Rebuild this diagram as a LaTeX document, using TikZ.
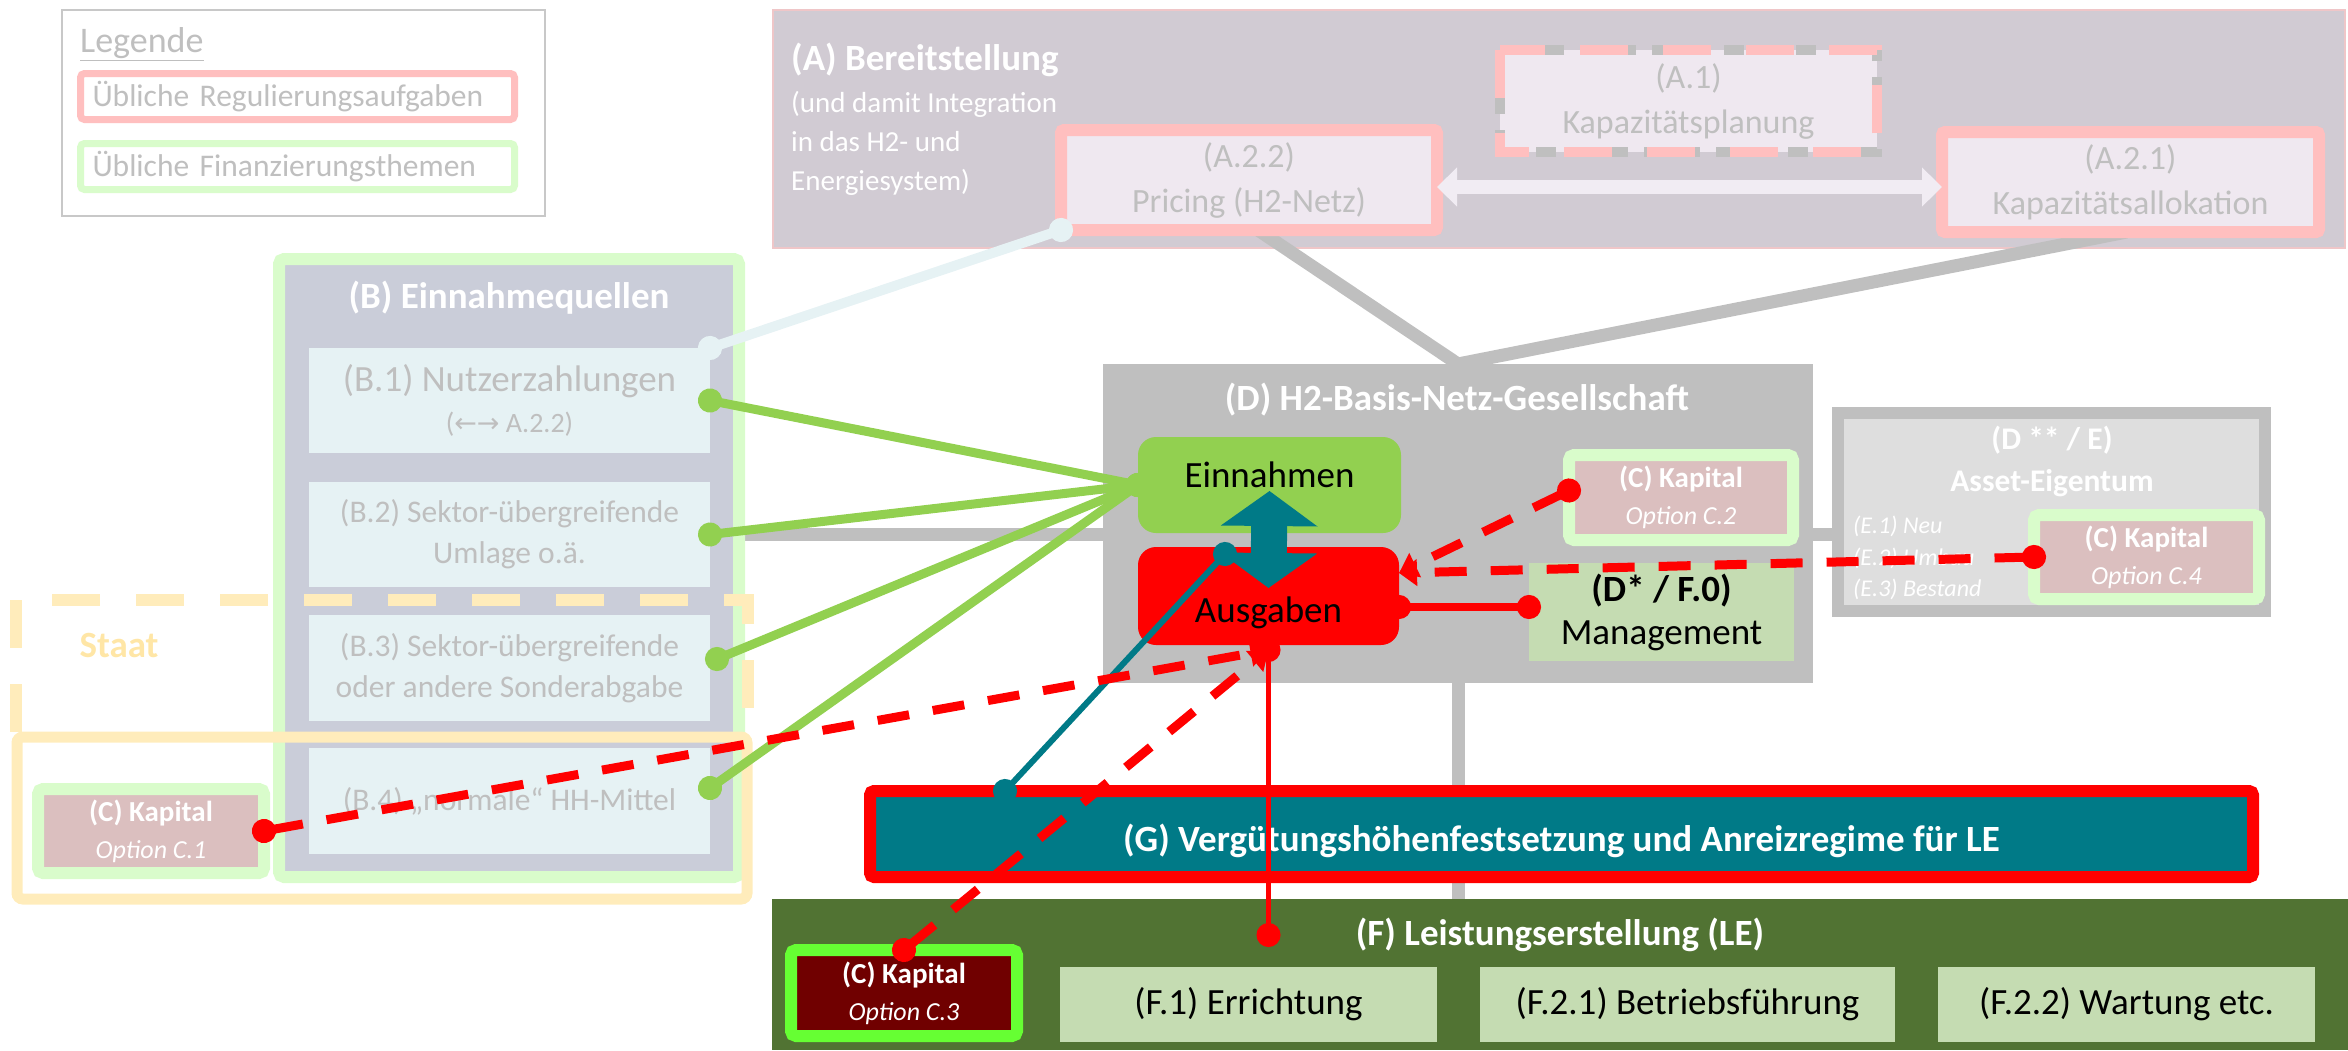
\documentclass[tikz,border=0pt]{standalone}
\usepackage{fontspec}
\setmainfont{Carlito}
\newfontfamily\arrowfont{DejaVu Sans}
\usetikzlibrary{arrows.meta,calc}

\newcommand\setfs[2]{\fontsize{#1pt}{#2pt}\selectfont}
\newcommand\kaptext[1]{\textbf{(C) Kapital}\\{\setfs{26}{37}\itshape Option C.#1}}

\definecolor{legendgrayc}{HTML}{C8C8C8}
\definecolor{txtgrayc}{HTML}{BFBFBF}
\definecolor{regpinkc}{HTML}{FFBFBF}
\definecolor{fingreenc}{HTML}{D9FCCB}
\definecolor{abgc}{HTML}{D1CBD3}
\definecolor{aborderc}{HTML}{EFC6C8}
\definecolor{asubc}{HTML}{EFE8F0}
\definecolor{awhitec}{HTML}{F1ECF3}
\definecolor{bbgc}{HTML}{CACDD9}
\definecolor{bsubc}{HTML}{E6F2F4}
\definecolor{staatc}{HTML}{FFECBB}
\definecolor{staattextc}{HTML}{FFE6A6}
\definecolor{kapfillc}{HTML}{DBBFBF}
\definecolor{dgrayc}{HTML}{BFBFBF}
\definecolor{egrayc}{HTML}{DEDEDE}
\definecolor{leafc}{HTML}{C5DCB2}
\definecolor{einc}{HTML}{92D050}
\definecolor{fgreenc}{HTML}{517333}
\definecolor{gtealc}{HTML}{007A87}
\definecolor{c3borderc}{HTML}{66FF33}
\definecolor{c3fillc}{HTML}{700000}

\pgfdeclarelayer{bg}
\pgfdeclarelayer{wires}
\pgfsetlayers{bg,wires,main}

\tikzset{
  plain/.style={inner sep=0pt, outer sep=0pt, align=center},
  legbox/.style={plain, line width=7pt, rounded corners=4pt, fill=white, text=txtgrayc,
    font=\setfs{31.5}{38}, minimum width=434pt, minimum height=46pt, text width=410pt, align=left},
  asubbox/.style={plain, fill=asubc, text=txtgrayc, font=\setfs{34}{45}},
  regframe/.style={draw=regpinkc, line width=12pt, rounded corners=3pt},
  bsubbox/.style={plain, fill=bsubc, text=txtgrayc, font=\setfs{31.5}{41}, minimum width=401pt},
  kap/.style={plain, draw=fingreenc, line width=12pt, rounded corners=5pt, fill=kapfillc,
    text=white, font=\setfs{29}{37}},
  leafbox/.style={plain, fill=leafc, text=black, font=\setfs{37}{43}},
  headtext/.style={inner sep=0pt, align=center, text=white, font=\setfs{37}{44}\bfseries},
  wire/.style={draw=dgrayc, line width=13pt},
  dotends/.style={{Circle[length=24pt,width=24pt]}-{Circle[length=24pt,width=24pt]},
    shorten <=-12pt, shorten >=-12pt},
  dotarrow/.style={{Circle[length=24pt,width=24pt]}-{Triangle[length=18pt,width=26pt]},
    shorten <=-12pt},
  redlink/.style={red, line width=9pt, dash pattern=on 32pt off 24pt},
}

\begin{document}
\begin{tikzpicture}[x=1pt, y=-1pt]
\useasboundingbox (0,0) rectangle (2348,1050);

% ---------- legend ----------
\node[plain, draw=legendgrayc, line width=2pt, fill=white, minimum width=483pt, minimum height=206pt] (legend) at (303.5,113) {};
\node[anchor=west, inner sep=0pt, text=txtgrayc, font=\setfs{36}{40}] (legtitle) at (80,44) {\underline{Legende}};
\node[legbox, draw=regpinkc] (legreg) at (297.5,96.5) {Übliche Regulierungsaufgaben};
\node[legbox, draw=fingreenc] (legfin) at (297.5,166.5) {Übliche Finanzierungsthemen};

% ---------- (A) provision ----------
\begin{pgfonlayer}{bg}
\node[plain, fill=abgc, draw=aborderc, line width=2pt, minimum width=1572pt, minimum height=238pt] (abox) at (1559,129) {};
\end{pgfonlayer}
\node[headtext, anchor=west] (atitle) at (791,60) {(A) Bereitstellung};
\node[anchor=west, inner sep=0pt, align=left, text=white, font=\setfs{29}{39}] (anote) at (791,143) {(und damit Integration\\in das H2- und\\Energiesystem)};
\node[asubbox, regframe, minimum width=376pt, minimum height=100pt] (a22) at (1249,180) {(A.2.2)\\Pricing (H2-Netz)};
\node[asubbox, draw=dgrayc, line width=10pt, dash pattern=on 20pt off 16pt, minimum width=377pt, minimum height=102pt] (a1) at (1688.5,101) {(A.1)\\Kapazitätsplanung};
\draw[regpinkc, line width=10pt, dash pattern=on 48pt off 35pt] (a1.north west) rectangle (a1.south east);
\node[asubbox, regframe, minimum width=377pt, minimum height=100pt] (a21) at (2130.5,182) {(A.2.1)\\Kapazitätsallokation};
\draw[awhitec, line width=14pt, {Triangle[length=20pt,width=38pt]}-{Triangle[length=20pt,width=38pt]}]
  ([yshift=-7pt]a22.east) -- ([yshift=-7pt]a22.east -| a21.west);

% ---------- (B) revenue sources ----------
\node[plain, fill=bbgc, draw=fingreenc, line width=12pt, rounded corners=5pt, minimum width=460pt, minimum height=618pt] (b) at (509,568) {};
\node[headtext] (btitle) at (509,298) {(B) Einnahmequellen};
\node[bsubbox, minimum height=105pt] (b1) at (509.5,400.5) {\setfs{37}{39}(B.1) Nutzerzahlungen\\{\setfs{28}{28}({\arrowfont\setfs{27}{28}←→} A.2.2)}};
\node[bsubbox, minimum height=105pt] (b2) at (509.5,534.5) {(B.2) Sektor-übergreifende\\Umlage o.ä.};
\node[bsubbox, minimum height=106pt] (b3) at (509.5,668) {(B.3) Sektor-übergreifende\\oder andere Sonderabgabe};
\node[bsubbox, minimum height=106pt] (b4) at (509.5,801) {(B.4) „normale“ HH-Mittel};

% ---------- state frame ----------
\draw[staatc, line width=12pt, dash pattern=on 48pt off 36pt] (16,732) -- (16,600) -- (748,600) -- (748,732);
\node[headtext, text=staattextc] (staat) at (119,645) {Staat};
\node[plain, draw=staatc, line width=11pt, rounded corners=6pt, minimum width=730pt, minimum height=162pt] (staatframe) at (382,818) {};
\node[kap, minimum width=226pt, minimum height=84pt] (c1) at (151,831) {\kaptext{1}};

% ---------- (D) network company ----------
\node[plain, fill=dgrayc, minimum width=710pt, minimum height=319pt] (d) at (1458,523.5) {};
\node[headtext] (dtitle) at (1457,400) {(D) H2-Basis-Netz-Gesellschaft};
\node[plain, fill=einc, rounded corners=18pt, minimum width=263pt, minimum height=96pt, font=\setfs{37}{44}, text height=24pt, text depth=20pt] (ein) at (1269.5,485) {Einnahmen};
\node[plain, fill=red, rounded corners=18pt, minimum width=261pt, minimum height=98pt, font=\setfs{37}{44}, text height=52pt, text depth=0pt] (aus) at (1268.5,596) {Ausgaben};
\node[kap, minimum width=224pt, minimum height=85pt] (c2) at (1681,497.5) {\kaptext{2}};
\node[leafbox, minimum width=265pt, minimum height=98pt] (mgmt) at (1661.5,612) {\textbf{(D* / F.0)}\\Management};
\draw[gtealc, line width=36pt, {Triangle[length=35pt,width=95pt]}-{Triangle[length=35pt,width=95pt]}]
  ([yshift=42pt]ein.south) -- ([yshift=-41pt]aus.north);

% ---------- (D**/E) asset ownership ----------
\node[plain, fill=egrayc, draw=dgrayc, line width=12pt, minimum width=427pt, minimum height=198pt] (e) at (2051.5,512) {};
\node[headtext, font=\setfs{31.5}{42}\bfseries] (etitle) at (2052,461) {(D ** / E)\\Asset-Eigentum};
\node[anchor=west, inner sep=0pt, align=left, text=white, font=\setfs{24}{31.5}\itshape] (elist) at (1853,558) {(E.1) Neu\\(E.2) Umbau\\(E.3) Bestand};
\node[kap, minimum width=225pt, minimum height=84pt] (c4) at (2146.5,557) {\kaptext{4}};

% ---------- (F) service provision ----------
\node[plain, fill=fgreenc, minimum width=1576pt, minimum height=151pt] (f) at (1560,974.5) {};
\node[headtext] (ftitle) at (1560,935) {(F) Leistungserstellung (LE)};
\node[kap, draw=c3borderc, fill=c3fillc, minimum width=226pt, minimum height=86pt] (c3) at (904,993) {\kaptext{3}};
\node[leafbox, minimum width=377pt, minimum height=75pt] (f1) at (1248.5,1004.5) {(F.1) Errichtung};
\node[leafbox, minimum width=415pt, minimum height=75pt] (f21) at (1687.5,1004.5) {(F.2.1) Betriebsführung};
\node[leafbox, minimum width=377pt, minimum height=75pt] (f22) at (2126.5,1004.5) {(F.2.2) Wartung etc.};

% ---------- (G) remuneration ----------
\node[plain, fill=gtealc, draw=red, line width=12pt, rounded corners=4pt, minimum width=1383pt, minimum height=86pt,
  text=white, font=\setfs{37}{44}\bfseries, text height=34pt, text depth=0pt] (g) at (1561.5,834) {(G) Vergütungshöhenfestsetzung und Anreizregime für LE};

% ---------- grey structure links ----------
\begin{pgfonlayer}{wires}
\draw[wire] ([xshift=9pt]a22.south) -- (d.north);
\draw[wire] ([xshift=-4pt]a21.south) -- (d.north);
\draw[wire] (b.east |- b2.east) -- (d.west |- b2.east);
\draw[wire] (d.east |- b2.east) -- (e.west |- b2.east);
\draw[wire] (d.south) -- (d.south |- f.north);
\end{pgfonlayer}

% ---------- flows ----------
\draw[bsubc, line width=10pt, dotends] (a22.south west) -- (b1.north east);
\draw[einc, line width=9pt, dotends] (b1.east) -- (ein.west);
\draw[einc, line width=9pt, dotends] (b2.east) -- (ein.west);
\draw[einc, line width=9pt, dotends] ([xshift=7pt,yshift=9pt]b3.east) -- (ein.west);
\draw[einc, line width=9pt, dotends] ([yshift=13pt]b4.east) -- (ein.west);
\draw[gtealc, line width=6pt, dotends] ([xshift=135pt]g.north west) -- ([xshift=87pt,yshift=-7pt]aus.north west);
\draw[red, line width=8pt, dotends] ([yshift=-11pt]aus.east) -- ([yshift=-11pt]aus.east -| mgmt.west);
\draw[red, line width=5pt, dotends] ([yshift=-5pt]aus.south) -- ([yshift=-36pt]aus.south |- f.north);
\draw[redlink, dotarrow] (c1.east) -- ([yshift=-5pt]aus.south);
\draw[redlink, dotarrow] (c3.north) -- ([yshift=-5pt]aus.south);
\draw[redlink, dotarrow] ([yshift=7pt]c2.west) -- ([yshift=23pt]aus.east);
\draw[redlink, dotarrow] (c4.west) -- ([yshift=23pt]aus.east);
\end{tikzpicture}
\end{document}
